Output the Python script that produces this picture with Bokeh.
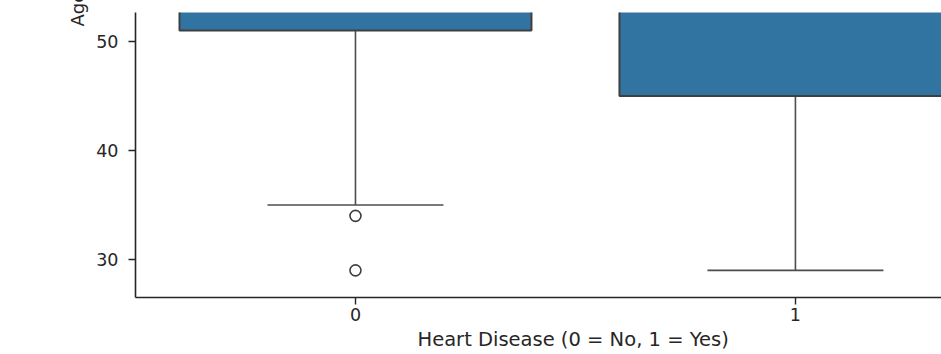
import math
from bokeh.plotting import figure
from bokeh.models import Range1d, FixedTicker, Title, ColumnDataSource
from bokeh.embed import file_html
from bokeh.resources import INLINE

# ---- data (upper parts of boxes are cropped out) ----
categories = [0, 1]
q1 = [51, 45]
median = [58, 56]
q3 = [62, 60]
lower_whisker = [35, 29]
upper_whisker = [77, 76]
outlier_cat = [0, 0]
outlier_age = [34, 29]
y_ticks = [30, 40, 50]
x_ticks = [0, 1]

BOX_W = 0.8
CAP_W = 0.4
FILL = "#3274a1"
EDGE = "#3f3f3f"
WHISK = "#4d4d4d"
TXT = "#262626"
FONT = "DejaVu Sans"

p = figure(width=941, height=354, output_backend="svg", toolbar_location=None,
           x_range=Range1d(-0.5, 1.332), y_range=Range1d(26.51, 52.66),
           min_border_left=135, min_border_top=12, min_border_right=0,
           min_border_bottom=57)
p.outline_line_color = None
p.xgrid.grid_line_color = None
p.ygrid.grid_line_color = None
p.background_fill_color = "white"
p.border_fill_color = "white"

src = ColumnDataSource(dict(
    x=categories, q1=q1, q3=q3, med=median, lo=lower_whisker, hi=upper_whisker,
    cl=[c - CAP_W / 2 for c in categories], cr=[c + CAP_W / 2 for c in categories],
    bl=[c - BOX_W / 2 for c in categories], br=[c + BOX_W / 2 for c in categories],
))

# whiskers (lower and upper)
p.segment(x0="x", y0="q1", x1="x", y1="lo", source=src, line_color=WHISK, line_width=1.6)
p.segment(x0="x", y0="q3", x1="x", y1="hi", source=src, line_color=WHISK, line_width=1.6)
# caps
p.segment(x0="cl", y0="lo", x1="cr", y1="lo", source=src, line_color=WHISK, line_width=1.6)
p.segment(x0="cl", y0="hi", x1="cr", y1="hi", source=src, line_color=WHISK, line_width=1.6)
# boxes
p.quad(left="bl", right="br", bottom="q1", top="q3", source=src,
       fill_color=FILL, line_color=EDGE, line_width=2)
# medians
p.segment(x0="bl", y0="med", x1="br", y1="med", source=src, line_color=EDGE, line_width=1.8)
# outliers
p.scatter(outlier_cat, outlier_age, marker="circle", size=11, fill_color="white",
          line_color=EDGE, line_width=1.6)

for ax in (p.xaxis[0], p.yaxis[0]):
    ax.axis_line_color = TXT
    ax.axis_line_width = 1.6
    ax.major_tick_line_color = TXT
    ax.major_tick_line_width = 1.4
    ax.major_tick_out = 7
    ax.major_tick_in = 0
    ax.minor_tick_line_color = None
    ax.major_label_text_font = FONT
    ax.major_label_text_font_size = "17.5px"
    ax.major_label_text_color = TXT

p.xaxis.ticker = FixedTicker(ticks=x_ticks)
p.yaxis.ticker = FixedTicker(ticks=y_ticks)
p.xaxis.major_label_standoff = 3
p.yaxis.major_label_standoff = 10

# x-axis title: centred on the full (uncropped) axis, so it sits right of the visible centre
p.add_layout(Title(text="Heart Disease (0 = No, 1 = Yes)", align="left", offset=282,
                   text_font=FONT, text_font_size="19.5px", text_font_style="normal",
                   text_color=TXT, standoff=4), "below")

# y-axis title (mostly cropped off above, as in the reference)
p.add_layout(Title(text="Age", align="left", offset=271, text_font=FONT,
                   text_font_size="18px", text_font_style="normal",
                   text_color=TXT, standoff=12), "left")

open("out.html", "w").write(file_html(p, INLINE))
